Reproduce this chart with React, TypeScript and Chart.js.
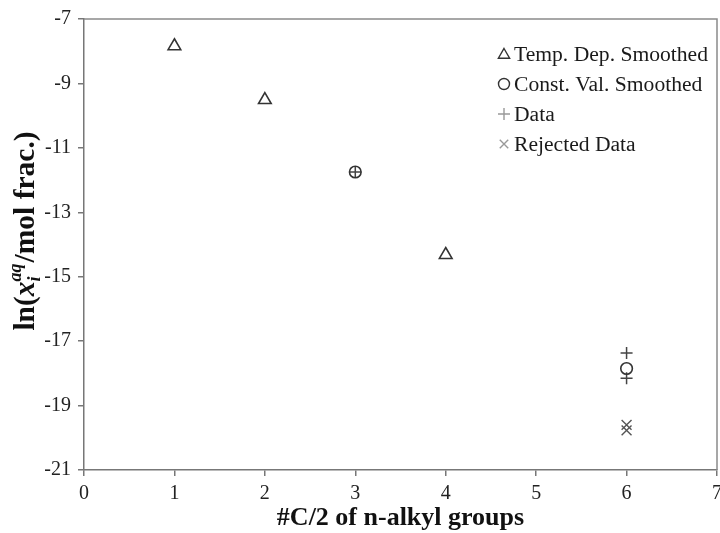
import React, { useEffect, useRef } from "react";
import { Chart, registerables } from "chart.js";

Chart.register(...registerables);

// Tick values for the two axes
const xTicks = [0, 1, 2, 3, 4, 5, 6, 7];
const yTicks = [-7, -9, -11, -13, -15, -17, -19, -21];

// Temperature-dependent smoothed values
const tempDepX = [1, 2, 4];
const tempDepY = [-7.84, -9.51, -14.32];

// Constant-value smoothed values
const constValX = [3, 6];
const constValY = [-11.75, -17.85];

// Measured data
const dataX = [3, 6, 6];
const dataY = [-11.75, -17.37, -18.15];

// Rejected measurements
const rejectedX = [6, 6];
const rejectedY = [-19.6, -19.77];

const FONT = '"Liberation Serif", "Times New Roman", Times, serif';

const pts = (xs: number[], ys: number[]) => xs.map((x, i) => ({ x, y: ys[i] }));

function drawMarker(ctx: CanvasRenderingContext2D, style: string, x: number, y: number, r: number, color: string, lw: number) {
  ctx.save();
  ctx.strokeStyle = color;
  ctx.lineWidth = lw;
  ctx.beginPath();
  if (style === "triangle") {
    let a = 0;
    ctx.moveTo(x + Math.sin(a) * r, y - Math.cos(a) * r);
    a += (2 * Math.PI) / 3;
    ctx.lineTo(x + Math.sin(a) * r, y - Math.cos(a) * r);
    a += (2 * Math.PI) / 3;
    ctx.lineTo(x + Math.sin(a) * r, y - Math.cos(a) * r);
    ctx.closePath();
  } else if (style === "circle") {
    ctx.arc(x, y, r, 0, Math.PI * 2);
  } else if (style === "cross") {
    ctx.moveTo(x - r, y);
    ctx.lineTo(x + r, y);
    ctx.moveTo(x, y - r);
    ctx.lineTo(x, y + r);
  } else if (style === "crossRot") {
    const d = r * Math.SQRT1_2;
    ctx.moveTo(x - d, y - d);
    ctx.lineTo(x + d, y + d);
    ctx.moveTo(x - d, y + d);
    ctx.lineTo(x + d, y - d);
  }
  ctx.stroke();
  ctx.restore();
}

const decorPlugin = {
  id: "decor",
  afterDraw(chart: any) {
    const { ctx, chartArea } = chart;
    const { left, right, top, bottom } = chartArea;
    const xScale = chart.scales.x;

    // Frame on top and right side
    ctx.save();
    ctx.strokeStyle = "#8a8a8a";
    ctx.lineWidth = 1.5;
    ctx.beginPath();
    ctx.moveTo(left, top);
    ctx.lineTo(right, top);
    ctx.lineTo(right, bottom);
    ctx.stroke();
    ctx.restore();

    // X tick labels, placed by the x scale
    ctx.save();
    ctx.fillStyle = "#222";
    ctx.font = `20px ${FONT}`;
    ctx.textAlign = "center";
    ctx.textBaseline = "middle";
    xTicks.forEach((v) => {
      ctx.fillText(String(v), xScale.getPixelForValue(v), bottom + 24);
    });
    ctx.restore();

    // Legend inside the plot, top right
    const legendX = 504;
    const legendY0 = 54;
    const rowGap = 30;
    chart.data.datasets.forEach((ds: any, i: number) => {
      const y = legendY0 + i * rowGap;
      const lr = ds.pointStyle === "triangle" ? 6.5 : ds.pointStyle === "circle" ? 5.5 : 6;
      drawMarker(ctx, ds.pointStyle, legendX, y + (ds.pointStyle === "triangle" ? 1 : 0), lr, ds.legendColor, 1.4);
      ctx.save();
      ctx.fillStyle = "#1a1a1a";
      ctx.font = `21.6px ${FONT}`;
      ctx.textBaseline = "middle";
      ctx.textAlign = "left";
      ctx.fillText(ds.label, legendX + 10, y + 1);
      ctx.restore();
    });

    // X axis title
    ctx.save();
    ctx.fillStyle = "#111";
    ctx.font = `bold 26px ${FONT}`;
    ctx.textAlign = "center";
    ctx.textBaseline = "middle";
    ctx.fillText("#C/2 of n-alkyl groups", (left + right) / 2, 518);
    ctx.restore();

    // Y axis title with subscript and superscript
    ctx.save();
    ctx.translate(34, 231);
    ctx.rotate(-Math.PI / 2);
    ctx.fillStyle = "#111";
    ctx.textBaseline = "alphabetic";
    const big = `bold 29.5px ${FONT}`;
    const bigIt = `bold italic 29.5px ${FONT}`;
    const small = `bold italic 18px ${FONT}`;
    ctx.font = big;
    const w1 = ctx.measureText("ln(").width;
    ctx.font = bigIt;
    const w2 = ctx.measureText("x").width;
    ctx.font = small;
    const wSub = ctx.measureText("i").width;
    const wSup = ctx.measureText("aq").width;
    const w3 = Math.max(wSub, wSup) + 1;
    ctx.font = big;
    const w4 = ctx.measureText("/mol frac.)").width;
    const total = w1 + w2 + w3 + w4;
    let cx = -total / 2;
    ctx.font = big;
    ctx.fillText("ln(", cx, 0);
    cx += w1;
    ctx.font = bigIt;
    ctx.fillText("x", cx, 0);
    cx += w2;
    ctx.font = small;
    ctx.fillText("i", cx, 6);
    ctx.fillText("aq", cx, -13);
    cx += w3;
    ctx.font = big;
    ctx.fillText("/mol frac.)", cx, 0);
    ctx.restore();
  },
};

export default function App() {
  const ref = useRef<HTMLCanvasElement | null>(null);

  useEffect(() => {
    document.body.style.margin = "0";
    const canvas = ref.current;
    if (!canvas) return;

    const chart = new Chart(canvas, {
      type: "scatter",
      data: {
        datasets: [
          {
            label: "Temp. Dep. Smoothed",
            data: pts(tempDepX, tempDepY),
            pointStyle: "triangle",
            pointRadius: 7.3,
            borderColor: "#333",
            backgroundColor: "rgba(0,0,0,0)",
            borderWidth: 1.6,
            legendColor: "#333",
          } as any,
          {
            label: "Const. Val. Smoothed",
            data: pts(constValX, constValY),
            pointStyle: "circle",
            pointRadius: 5.8,
            borderColor: "#333",
            backgroundColor: "rgba(0,0,0,0)",
            borderWidth: 1.6,
            legendColor: "#333",
          } as any,
          {
            label: "Data",
            data: pts(dataX, dataY),
            pointStyle: "cross",
            pointRadius: 6,
            borderColor: "#444",
            backgroundColor: "rgba(0,0,0,0)",
            borderWidth: 1.5,
            legendColor: "#999",
          } as any,
          {
            label: "Rejected Data",
            data: pts(rejectedX, rejectedY),
            pointStyle: "crossRot",
            pointRadius: 7,
            borderColor: "#555",
            backgroundColor: "rgba(0,0,0,0)",
            borderWidth: 1.4,
            legendColor: "#999",
          } as any,
        ],
      },
      options: {
        animation: false,
        responsive: false,
        maintainAspectRatio: false,
        layout: { autoPadding: false, padding: { top: 19, right: 3, left: 0, bottom: 0 } },
        plugins: {
          legend: { display: false },
          tooltip: { enabled: false },
        },
        elements: { point: { hoverRadius: 7 } },
        scales: {
          x: {
            type: "linear",
            min: 0,
            max: 7,
            afterBuildTicks: (scale: any) => {
              scale.ticks = xTicks.map((v) => ({ value: v }));
            },
            afterFit: (scale: any) => {
              scale.height = 63;
            },
            ticks: { display: false },
            grid: {
              display: true,
              drawOnChartArea: false,
              drawTicks: true,
              tickLength: 6,
              color: "#777",
              lineWidth: 1.5,
            },
            border: { display: true, color: "#777", width: 1.5 },
          },
          y: {
            type: "linear",
            min: -21,
            max: -7,
            afterBuildTicks: (scale: any) => {
              scale.ticks = yTicks.map((v) => ({ value: v }));
            },
            afterFit: (scale: any) => {
              scale.width = 84;
            },
            ticks: {
              color: "#222",
              font: { family: FONT, size: 20 },
              padding: 7,
            },
            grid: {
              display: true,
              drawOnChartArea: false,
              drawTicks: true,
              tickLength: 6,
              color: "#777",
              lineWidth: 1.5,
            },
            border: { display: true, color: "#777", width: 1.5 },
          },
        },
      },
      plugins: [decorPlugin],
    });

    return () => chart.destroy();
  }, []);

  return (
    <div style={{ width: 720, height: 533, background: "#fff" }}>
      <canvas ref={ref} width={720} height={533} style={{ display: "block", width: 720, height: 533 }} />
    </div>
  );
}
